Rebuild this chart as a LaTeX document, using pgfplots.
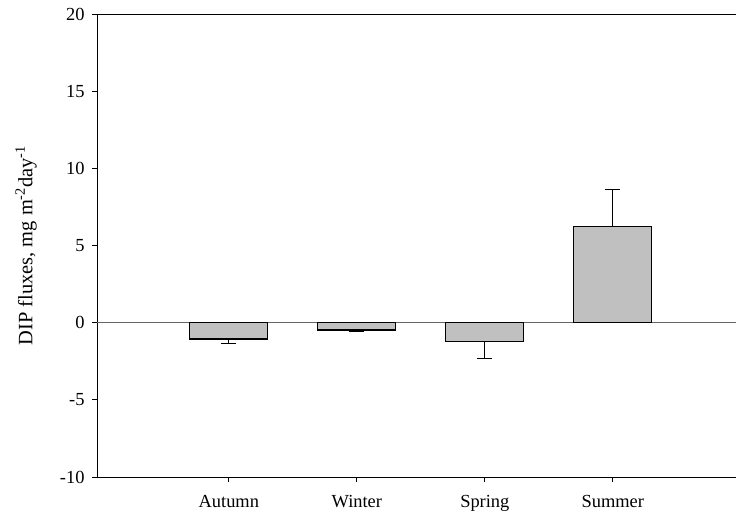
\documentclass[border=0pt]{standalone}
\usepackage{fontspec}
\setmainfont{Liberation Serif}
\usepackage{pgfplots}
\pgfplotsset{compat=1.18}

% seasonal DIP fluxes (mean, with one-sided error)
\pgfplotstableread{
x  y      e
0  -1.06  0.26
1  -0.47  0.13
2  -1.23  1.10
}\negdata
\pgfplotstableread{
x  y     e
3  6.22  2.40
}\posdata

\definecolor{barfill}{RGB}{192,192,192}

\begin{document}
\begin{tikzpicture}
\begin{axis}[
  name=ax,
  scale only axis,
  width=641bp, height=463bp,
  xmin=-1.03, xmax=3.978,
  ymin=-10, ymax=20,
  axis line style={black, line width=0.8pt},
  tick style={black, line width=0.8pt},
  tick align=outside,
  tick pos=left,
  major tick length=5bp,
  xtick={0,1,2,3},
  xticklabels={Autumn,Winter,Spring,Summer},
  ytick={-10,-5,0,5,10,15,20},
  /pgf/number format/assume math mode=true,
  ticklabel style={font=\fontsize{18.5}{20}\selectfont},
  yticklabel style={xshift=-4bp},
  xticklabel style={yshift=-10bp},
  ylabel={DIP fluxes, mg m\textsuperscript{-2}day\textsuperscript{-1}},
  ylabel style={font=\fontsize{20.5}{22}\selectfont, at={(rel axis cs:0,0.5)}, anchor=center, yshift=71bp},
  ybar, bar width=78bp, bar shift=0pt,
  clip=false,
]
\draw[gray!80!black, line width=0.8pt] (axis cs:-1.03,0) -- (axis cs:3.978,0);

\addplot[fill=barfill, draw=black, line width=1.3pt,
  error bars/.cd, y dir=minus, y explicit,
  error bar style={black, line width=1pt},
  error mark options={rotate=90, mark size=7.5bp, line width=1pt, black}]
  table[x=x, y=y, y error=e] {\negdata};

\addplot[fill=barfill, draw=black, line width=1.3pt,
  error bars/.cd, y dir=plus, y explicit,
  error bar style={black, line width=1pt},
  error mark options={rotate=90, mark size=7.5bp, line width=1pt, black}]
  table[x=x, y=y, y error=e] {\posdata};
\end{axis}
\pgfresetboundingbox
\path ([xshift=-97bp,yshift=-38bp]ax.south west) rectangle ([xshift=-2bp,yshift=14bp]ax.north east);
\end{tikzpicture}
\end{document}
